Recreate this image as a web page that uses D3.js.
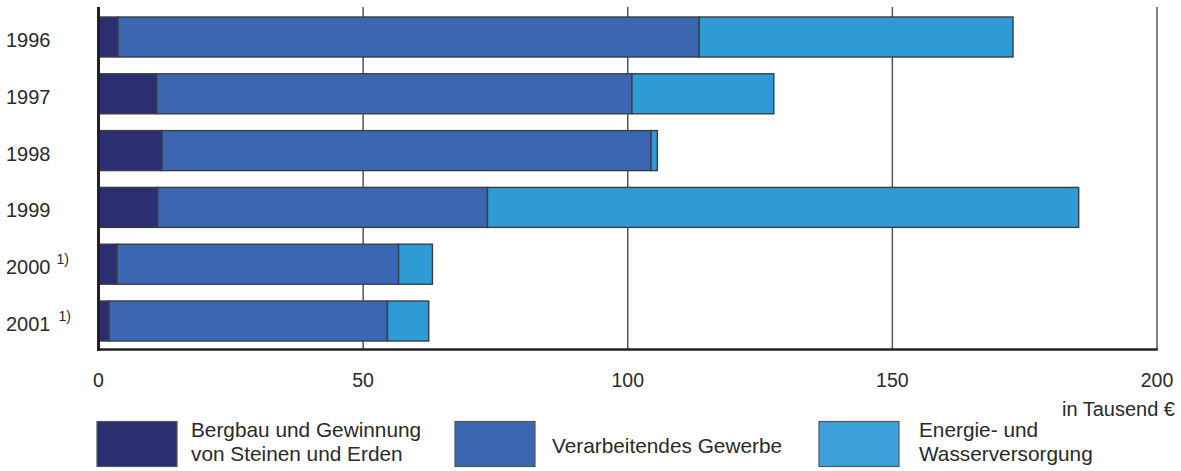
<!DOCTYPE html>
<html>
<head>
<meta charset="utf-8">
<script src="https://cdn.jsdelivr.net/npm/d3@7"></script>
<style>
  html, body { margin: 0; padding: 0; background: #fff; }
  svg { display: block; font-family: "Liberation Sans", Arial, Helvetica, sans-serif; }
</style>
</head>
<body>
<svg id="chart" width="1181" height="471"></svg>
<script>
// Investitionen je Beschäftigten nach Wirtschaftsbereichen (in Tausend €)
const years = ["1996", "1997", "1998", "1999", "2000", "2001"];
const yearNotes = ["", "", "", "", "1)", "1)"];
const seriesNames = [
  ["Bergbau und Gewinnung", "von Steinen und Erden"],
  ["Verarbeitendes Gewerbe"],
  ["Energie- und", "Wasserversorgung"]
];
const bergbau = [3.7, 11.0, 12.0, 11.2, 3.5, 2.0];
const verarbeitend = [109.8, 89.8, 92.4, 62.3, 53.2, 52.6];
const energie = [59.3, 26.8, 1.2, 111.7, 6.4, 7.8];
const xTicks = [0, 50, 100, 150, 200];
const unitLabel = "in Tausend €";
const colors = ["#2b2f72", "#3b67b2", "#2e9bd6"];
const legendColors = ["#2b2f72", "#3b67b2", "#3da0da"];

const svg = d3.select("#chart");
const textColor = "#2a2a2a";

const x = d3.scaleLinear().domain([0, 200]).range([98.5, 1157]);
const y = d3.scaleBand().domain(years).range([17, 341]).paddingInner(0.296).paddingOuter(0);
const plotTop = 7, plotBottom = 349.5;

// stacked segments
const rows = years.map((yr, i) => ({ year: yr, values: [bergbau[i], verarbeitend[i], energie[i]] }));
const stack = d3.stack().keys([0, 1, 2]).value((d, k) => d.values[k]);
const layers = stack(rows);

// vertical gridlines (behind the bars)
svg.append("g").selectAll("line")
  .data(xTicks.filter(t => t > 0))
  .join("line")
  .attr("x1", d => x(d)).attr("x2", d => x(d))
  .attr("y1", plotTop).attr("y2", plotBottom)
  .attr("stroke", "#555").attr("stroke-width", 1.5);

svg.append("g").selectAll("g")
  .data(layers)
  .join("g")
  .attr("fill", (d, i) => colors[i])
  .selectAll("rect")
  .data(d => d)
  .join("rect")
  .attr("x", d => x(d[0]))
  .attr("y", d => y(d.data.year))
  .attr("width", d => x(d[1]) - x(d[0]))
  .attr("height", y.bandwidth())
  .attr("stroke", "#3a3d44")
  .attr("stroke-width", 1.4);

// axis frame
svg.append("line")
  .attr("x1", x(0)).attr("x2", x(0))
  .attr("y1", plotTop).attr("y2", plotBottom + 1.5)
  .attr("stroke", "#222").attr("stroke-width", 3);
svg.append("line")
  .attr("x1", x(0) - 1.5).attr("x2", x(200) + 0.75)
  .attr("y1", plotBottom).attr("y2", plotBottom)
  .attr("stroke", "#222").attr("stroke-width", 2.5);

// x tick labels
svg.append("g").selectAll("text")
  .data(xTicks)
  .join("text")
  .attr("x", d => x(d))
  .attr("y", 387)
  .attr("text-anchor", "middle")
  .attr("font-size", 19.5)
  .attr("fill", textColor)
  .text(d => d);

svg.append("text")
  .attr("x", 1175).attr("y", 416)
  .attr("text-anchor", "end")
  .attr("font-size", 20)
  .attr("fill", textColor)
  .text(unitLabel);

// year labels
const yl = svg.append("g").selectAll("text")
  .data(years)
  .join("text")
  .attr("x", 6)
  .attr("y", d => y(d) + y.bandwidth() / 2 + 10)
  .attr("font-size", 20)
  .attr("fill", textColor);
yl.append("tspan").text(d => d);
yl.append("tspan")
  .attr("dx", (d, i) => i === 5 ? 8 : 6)
  .attr("dy", -10)
  .attr("font-size", 14)
  .text((d, i) => yearNotes[i]);

// legend
const legendX = [97, 455, 819];
const legendTextX = [191, 552, 919];
const lg = svg.append("g").selectAll("g")
  .data(seriesNames)
  .join("g");
lg.append("rect")
  .attr("x", (d, i) => legendX[i])
  .attr("y", 421.5)
  .attr("width", 80)
  .attr("height", 45)
  .attr("fill", (d, i) => legendColors[i])
  .attr("stroke", "#555")
  .attr("stroke-width", 1.2);
lg.each(function (lines, i) {
  const g = d3.select(this);
  const baseY = lines.length === 1 ? 453 : 437;
  lines.forEach((ln, j) => {
    g.append("text")
      .attr("x", legendTextX[i])
      .attr("y", baseY + j * 24)
      .attr("font-size", 20.8)
      .attr("fill", textColor)
      .text(ln);
  });
});
</script>
</body>
</html>
